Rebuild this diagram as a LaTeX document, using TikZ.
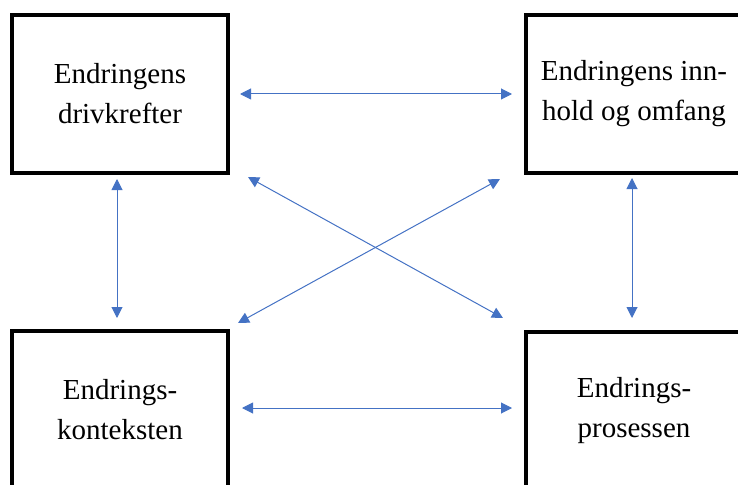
\documentclass[tikz,border=0pt]{standalone}
\usepackage{fontspec}
\setmainfont{Liberation Serif}
\usetikzlibrary{arrows.meta}
\definecolor{arrowblue}{HTML}{4472C4}
\tikzset{
  box/.style={draw=black, line width=4pt, minimum width=216pt, minimum height=158pt, inner sep=0pt,
    align=center, font=\fontsize{29}{40}\selectfont},
  link/.style={draw=arrowblue, line width=1pt,
    {Triangle[length=11pt,width=11pt]}-{Triangle[length=11pt,width=11pt]}}
}
\begin{document}
\begin{tikzpicture}[x=1pt,y=-1pt]
\useasboundingbox (0,0) rectangle (738,484);
\clip (0,0) rectangle (738,484);
\node[box] (tl) at (120,94) {Endringens\\drivkrefter};
\node[box] (tr) at (634,94) {Endringens inn-\\hold og omfang};
\node[box] (bl) at (120,410) {Endrings-\\konteksten};
\node[box] (br) at (634,411) {Endrings-\\prosessen};
% arrow endpoints
\coordinate (h1a) at (240,94);
\coordinate (h1b) at (512,94);
\coordinate (h2a) at (242,408);
\coordinate (h2b) at (512,408);
\coordinate (v1a) at (117,179);
\coordinate (v1b) at (117,318);
\coordinate (v2a) at (632,178);
\coordinate (v2b) at (632,318);
\coordinate (d1a) at (248,177);
\coordinate (d1b) at (503,318);
\coordinate (d2a) at (500,179);
\coordinate (d2b) at (238,323);
\draw[link] (h1a) -- (h1b);
\draw[link] (h2a) -- (h2b);
\draw[link] (v1a) -- (v1b);
\draw[link] (v2a) -- (v2b);
\draw[link] (d1a) -- (d1b);
\draw[link] (d2a) -- (d2b);
\end{tikzpicture}
\end{document}
